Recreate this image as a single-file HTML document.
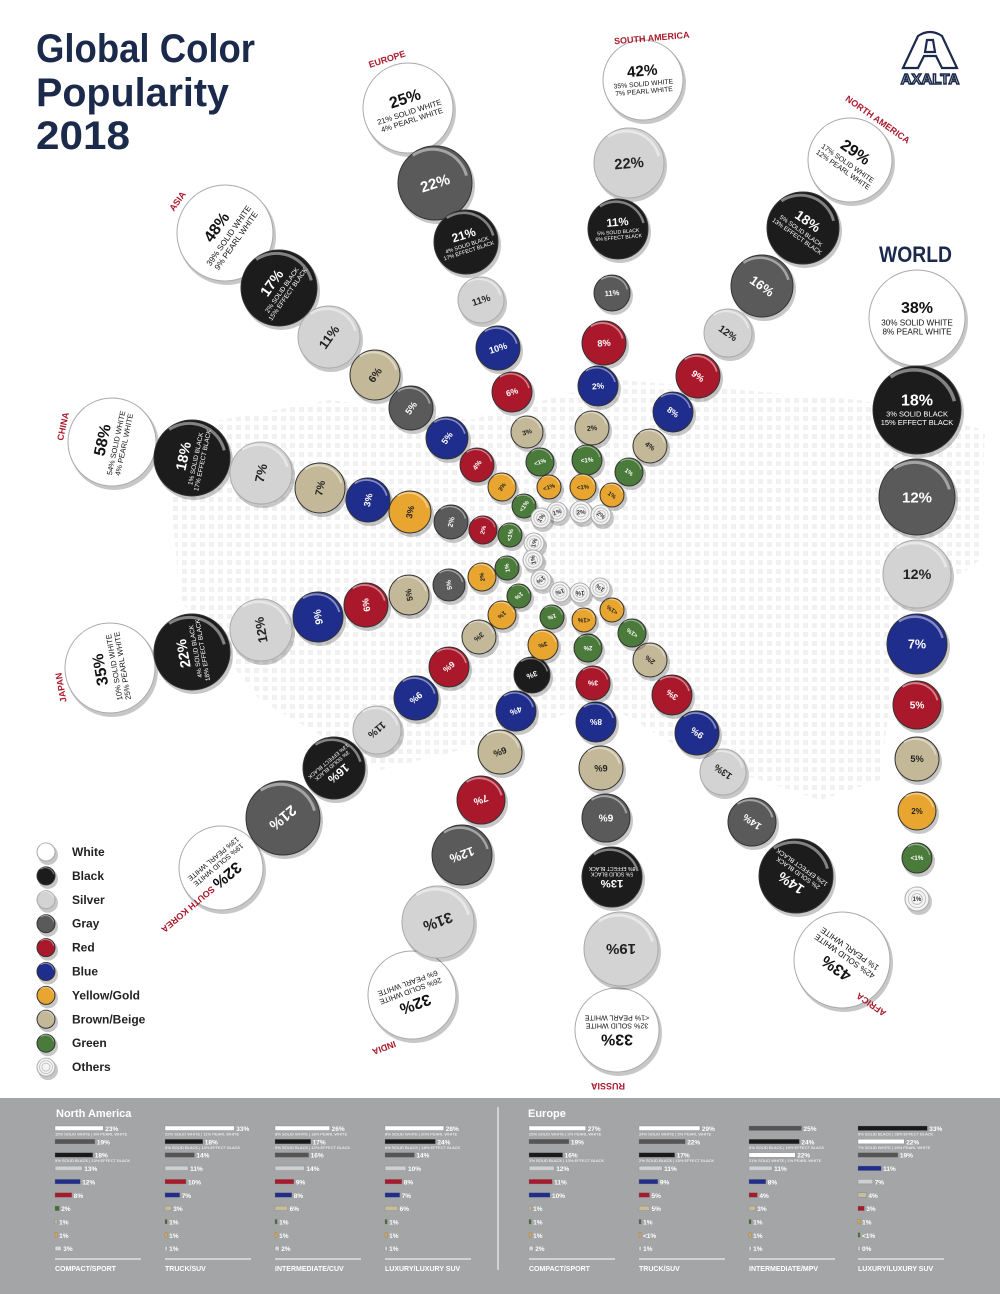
<!DOCTYPE html>
<html><head><meta charset="utf-8"><style>
html,body{margin:0;padding:0;background:#fff}
svg{display:block}
text{font-family:"Liberation Sans",sans-serif}
</style></head><body>
<svg id="s" xmlns="http://www.w3.org/2000/svg" width="1000" height="1294" viewBox="0 0 1000 1294">
<defs>
<pattern id="dots" width="9" height="9" patternUnits="userSpaceOnUse"><rect x="2" y="2" width="5" height="5" fill="#f1f1f1"/></pattern>
</defs>
<rect width="1000" height="1294" fill="#fff"/>
<path d="M165 430 L330 400 L470 420 L620 380 L860 400 L985 430 L980 560 L900 620 L880 780 L820 800 L700 760 L600 700 L500 740 L380 770 L260 700 L180 600 Z" fill="url(#dots)"/>
<text x="36" y="62" font-size="40" font-weight="bold" fill="#1b2a4b" textLength="219" lengthAdjust="spacingAndGlyphs">Global Color</text>
<text x="36" y="106" font-size="40" font-weight="bold" fill="#1b2a4b" textLength="193" lengthAdjust="spacingAndGlyphs">Popularity</text>
<text x="36" y="149" font-size="40" font-weight="bold" fill="#1b2a4b" textLength="94" lengthAdjust="spacingAndGlyphs">2018</text>
<g fill="none" stroke="#1b2a4b" stroke-width="2.2">
<path d="M903 68 L918 36 Q930 28 942 36 L957 68 L942 68 L936 56 L924 56 L918 68 Z"/>
<path d="M927 40 L933 40 L935 52 L925 52 Z"/>
</g>
<text x="930" y="84" font-size="15" font-weight="bold" fill="#fff" stroke="#1b2a4b" stroke-width="1.5" text-anchor="middle">AXALTA</text>
<text x="879" y="262" font-size="22" font-weight="bold" fill="#1b2a4b" textLength="73" lengthAdjust="spacingAndGlyphs">WORLD</text>
<g id="c"></g>
<g id="leg"></g>
<rect x="0" y="1098" width="1000" height="196" fill="#a4a5a7"/>
<line x1="498" y1="1107" x2="498" y2="1270" stroke="#fff" stroke-width="1"/>
<text x="56" y="1117" font-size="11" font-weight="bold" fill="#fff">North America</text>
<text x="528" y="1117" font-size="11" font-weight="bold" fill="#fff">Europe</text>
<g id="bars"></g>
</svg>
<script>
var C={W:"#ffffff",K:"#1c1c1c",S:"#d3d3d3",G:"#5a5a5a",R:"#a9192b",B:"#1f2d8c",Y:"#e8a631",E:"#c3b898",N:"#4b7b3b",O:"#f4f4f4"};
var TC={W:"#111",K:"#fff",S:"#222",G:"#fff",R:"#fff",B:"#fff",Y:"#222",E:"#222",N:"#fff",O:"#333"};
var arms=[
["EUROPE",-18,[408,108,45,"W","25%","21% SOLID WHITE|4% PEARL WHITE"],[435,183,37,"G","22%"],[466,242,32,"K","21%","4% SOLID BLACK|17% EFFECT BLACK"],[481,300,23,"S","11%"],[498,348,22,"B","10%"],[512,392,20,"R","6%"],[527,432,16,"E","3%"],[540,462,14,"N","<1%"],[549,487,12,"Y","<1%"],[557,512,10,"O","1%"]],
["SOUTH AMERICA",-5,[643,80,40,"W","42%","35% SOLID WHITE|7% PEARL WHITE"],[629,163,35,"S","22%"],[618,229,30,"K","11%","5% SOLID BLACK|6% EFFECT BLACK"],[612,293,18,"G","11%"],[604,343,22,"R","8%"],[598,386,20,"B","2%"],[592,428,17,"E","2%"],[587,460,15,"N","<1%"],[583,487,13,"Y","<1%"],[581,512,11,"O","2%"]],
["NORTH AMERICA",35,[850,160,42,"W","29%","17% SOLID WHITE|12% PEARL WHITE"],[803,228,36,"K","18%","5% SOLID BLACK|13% EFFECT BLACK"],[762,286,31,"G","16%"],[728,333,24,"S","12%"],[698,376,22,"R","9%"],[673,412,20,"B","8%"],[650,446,17,"E","4%"],[629,472,14,"N","1%"],[612,495,12,"Y","1%"],[601,515,10,"O","2%"]],
["ASIA",-55,[225,233,48,"W","48%","39% SOLID WHITE|9% PEARL WHITE"],[279,288,38,"K","17%","2% SOLID BLACK|15% EFFECT BLACK"],[329,337,31,"S","11%"],[375,375,25,"E","6%"],[411,408,22,"G","5%"],[447,438,21,"B","5%"],[477,465,17,"R","4%"],[502,487,14,"Y","3%"],[524,506,12,"N","<1%"],[541,518,10,"O","1%"]],
["CHINA",-78,[112,442,44,"W","58%","54% SOLID WHITE|4% PEARL WHITE"],[192,458,38,"K","18%","1% SOLID BLACK|17% EFFECT BLACK"],[261,473,31,"S","7%"],[320,488,25,"E","7%"],[368,500,22,"B","3%"],[410,512,21,"Y","3%"],[451,522,17,"G","2%"],[483,530,14,"R","2%"],[510,535,12,"N","<1%"],[534,543,10,"O","1%"]],
["JAPAN",-100,[110,668,45,"W","35%","10% SOLID WHITE|25% PEARL WHITE"],[192,652,38,"K","22%","4% SOLID BLACK|18% EFFECT BLACK"],[261,630,31,"S","12%"],[318,617,25,"B","9%"],[366,605,22,"R","6%"],[409,595,20,"E","5%"],[449,585,16,"G","5%"],[482,577,14,"Y","2%"],[507,568,12,"N","1%"],[533,560,10,"O","1%"]],
["SOUTH KOREA",140,[221,868,42,"W","32%","19% SOLID WHITE|13% PEARL WHITE"],[283,818,37,"G","21%"],[334,768,31,"K","16%","3% SOLID BLACK|13% EFFECT BLACK"],[377,730,24,"S","11%"],[416,698,22,"B","9%"],[449,667,20,"R","6%"],[479,637,17,"E","3%"],[502,615,14,"Y","1%"],[519,596,12,"N","1%"],[541,580,10,"O","1%"]],
["INDIA",160,[412,995,44,"W","32%","26% SOLID WHITE|6% PEARL WHITE"],[438,922,36,"S","31%"],[462,855,30,"G","12%"],[481,800,24,"R","7%"],[500,752,22,"E","6%"],[516,711,20,"B","4%"],[532,675,18,"K","3%"],[543,645,15,"Y","3%"],[552,617,12,"N","1%"],[560,592,10,"O","1%"]],
["RUSSIA",180,[617,1030,42,"W","33%","32% SOLID WHITE|<1% PEARL WHITE"],[621,949,37,"S","19%"],[612,877,30,"K","13%","5% SOLID BLACK|8% EFFECT BLACK"],[606,818,24,"G","6%"],[601,768,22,"E","6%"],[596,722,20,"B","8%"],[593,683,17,"R","3%"],[588,648,14,"N","2%"],[584,620,12,"Y","<1%"],[580,593,10,"O","1%"]],
["AFRICA",215,[842,960,48,"W","43%","42% SOLID WHITE|1% PEARL WHITE"],[796,876,37,"K","14%","2% SOLID BLACK|12% EFFECT BLACK"],[752,822,24,"G","14%"],[723,772,23,"S","13%"],[697,733,22,"B","9%"],[672,695,20,"R","3%"],[650,660,17,"E","2%"],[632,633,14,"N","<1%"],[612,610,12,"Y","<1%"],[600,588,10,"O","1%"]],
["",0,[917,318,48,"W","38%","30% SOLID WHITE|8% PEARL WHITE"],[917,410,44,"K","18%","3% SOLID BLACK|15% EFFECT BLACK"],[917,497,38,"G","12%"],[917,574,34,"S","12%"],[917,644,30,"B","7%"],[917,705,24,"R","5%"],[917,759,22,"E","5%"],[917,811,19,"Y","2%"],[917,858,15,"N","<1%"],[917,899,12,"O","1%"]]
];
var h="";
function circ(x,y,r,k){
 var s='<circle cx="'+(x+2)+'" cy="'+(y+3)+'" r="'+(r+1)+'" fill="#000" opacity=".22"/>';
 s+='<circle cx="'+x+'" cy="'+y+'" r="'+r+'" fill="'+C[k]+'" stroke="'+(k=="W"||k=="O"||k=="S"?"#aaa":"#333")+'" stroke-width="1"/>';
 if(k=="O"){s+='<circle cx="'+x+'" cy="'+y+'" r="'+(r*.72)+'" fill="none" stroke="#bbb" stroke-width=".8"/><circle cx="'+x+'" cy="'+y+'" r="'+(r*.45)+'" fill="none" stroke="#bbb" stroke-width=".8"/>';}
 s+='<path d="M'+(x-r*.6)+' '+(y-r*.75)+' A'+r*.95+' '+r*.95+' 0 0 1 '+(x+r*.85)+' '+(y-r*.2)+'" fill="none" stroke="#fff" stroke-opacity=".45" stroke-width="'+Math.max(1,r*.08)+'"/>';
 return s;
}
var labpos={"EUROPE":[388,62],"SOUTH AMERICA":[652,41],"NORTH AMERICA":[876,122],"ASIA":[180,203],"CHINA":[66,427],"JAPAN":[64,687],"SOUTH KOREA":[186,907],"INDIA":[383,1045],"RUSSIA":[608,1083],"AFRICA":[873,1002]};
arms.forEach(function(a){
 var rot=a[1];
 for(var i=2;i<a.length;i++){
  var c=a[i],x=c[0],y=c[1],r=c[2],k=c[3];
  h+=circ(x,y,r,k);
  var rr=a[0]==""?0:rot;
  var fs=Math.max(6,Math.min(15,r*0.42));
  if(c[5]){fs=Math.min(16,r*0.38);}
  h+='<g transform="translate('+x+' '+y+') rotate('+rr+')" fill="'+TC[k]+'" text-anchor="middle">';
  if(c[5]){var p=c[5].split("|");var sf=Math.max(5,r*0.17);
   h+='<text y="'+(-sf*.6)+'" font-size="'+fs+'" font-weight="bold">'+c[4].replace("<","&lt;")+'</text>';
   h+='<text y="'+(sf*0.9)+'" font-size="'+sf+'">'+p[0].replace("<","&lt;")+'</text><text y="'+(sf*2)+'" font-size="'+sf+'">'+p[1].replace("<","&lt;")+'</text>';
  } else h+='<text y="'+(fs*.35)+'" font-size="'+fs+'" font-weight="bold">'+c[4].replace("<","&lt;")+'</text>';
  h+='</g>';
 }
 if(a[0]){var lp=labpos[a[0]];h+='<text transform="translate('+lp[0]+' '+lp[1]+') rotate('+rot+')" font-size="9" font-weight="bold" fill="#a9192b" text-anchor="middle">'+a[0]+'</text>';}
});
document.getElementById("c").innerHTML=h;
var lg=[["W","White"],["K","Black"],["S","Silver"],["G","Gray"],["R","Red"],["B","Blue"],["Y","Yellow/Gold"],["E","Brown/Beige"],["N","Green"],["O","Others"]];
var l="";lg.forEach(function(e,i){var y=852+i*23.9;l+=circ(46,y,9,e[0]);l+='<text x="72" y="'+(y+4)+'" font-size="12" font-weight="bold" fill="#222">'+e[1]+'</text>';});
document.getElementById("leg").innerHTML=l;
var BC={W:"#fff",K:"#1a1a1a",G:"#555",S:"#cfcfcf",B:"#1f2d8c",R:"#a9192b",N:"#3f6f33",E:"#c8bc9c",Y:"#e8a631",O:"#d8d8d8"};
var groups=[
[55,"COMPACT/SPORT",[["W",23,"15% SOLID WHITE | 8% PEARL WHITE"],["G",19],["K",18,"5% SOLID BLACK | 13% EFFECT BLACK"],["S",13],["B",12],["R",8],["N",2],["E",1],["Y",1],["O",3]]],
[165,"TRUCK/SUV",[["W",33,"22% SOLID WHITE | 11% PEARL WHITE"],["K",18,"5% SOLID BLACK | 13% EFFECT BLACK"],["G",14],["S",11],["R",10],["B",7],["E",3],["N",1],["Y",1],["O",1]]],
[275,"INTERMEDIATE/CUV",[["W",26,"8% SOLID WHITE | 18% PEARL WHITE"],["K",17,"5% SOLID BLACK | 12% EFFECT BLACK"],["G",16],["S",14],["R",9],["B",8],["E",6],["N",1],["Y",1],["O",2]]],
[385,"LUXURY/LUXURY SUV",[["W",28,"8% SOLID WHITE | 20% PEARL WHITE"],["K",24,"6% SOLID BLACK | 18% EFFECT BLACK"],["G",14],["S",10],["R",8],["B",7],["E",6],["N",1],["Y",1],["O",1]]],
[529,"COMPACT/SPORT",[["W",27,"25% SOLID WHITE | 2% PEARL WHITE"],["G",19],["K",16,"3% SOLID BLACK | 13% EFFECT BLACK"],["S",12],["R",11],["B",10],["E",1],["N",1],["Y",1],["O",2]]],
[639,"TRUCK/SUV",[["W",29,"24% SOLID WHITE | 5% PEARL WHITE"],["G",22],["K",17,"2% SOLID BLACK | 15% EFFECT BLACK"],["S",11],["B",9],["R",5],["E",5],["N",1],["Y",0.5,"","<1%"],["O",1]]],
[749,"INTERMEDIATE/MPV",[["G",25],["K",24,"5% SOLID BLACK | 19% EFFECT BLACK"],["W",22,"21% SOLID WHITE | 1% PEARL WHITE"],["S",11],["B",8],["R",4],["E",3],["N",1],["Y",1],["O",1]]],
[858,"LUXURY/LUXURY SUV",[["K",33,"5% SOLID BLACK | 28% EFFECT BLACK"],["W",22,"7% SOLID WHITE | 15% PEARL WHITE"],["G",19],["B",11],["S",7],["E",4],["R",3],["Y",1],["N",0.5,"","<1%"],["O",0.5,"","0%"]]]
];
var b="";
groups.forEach(function(g){var x=g[0];
 g[2].forEach(function(r,i){var y=1126+i*13.35;var w=Math.max(2,r[1]*2.1);
  b+='<rect x="'+x+'" y="'+y+'" width="'+w+'" height="4.5" fill="'+BC[r[0]]+'" stroke="#777" stroke-width=".3"/>';
  b+='<text x="'+(x+w+2)+'" y="'+(y+5)+'" font-size="6.5" font-weight="bold" fill="#fff">'+(r[3]?r[3].replace("<","&lt;"):r[1]+"%")+'</text>';
  if(r[2])b+='<text x="'+x+'" y="'+(y+9.5)+'" font-size="4" fill="#fff">'+r[2]+'</text>';
 });
 b+='<line x1="'+x+'" y1="1259" x2="'+(x+86)+'" y2="1259" stroke="#fff" stroke-width="1"/>';
 b+='<text x="'+x+'" y="1271" font-size="7" font-weight="bold" fill="#fff">'+g[1]+'</text>';
});
document.getElementById("bars").innerHTML=b;
</script>
</body></html>
